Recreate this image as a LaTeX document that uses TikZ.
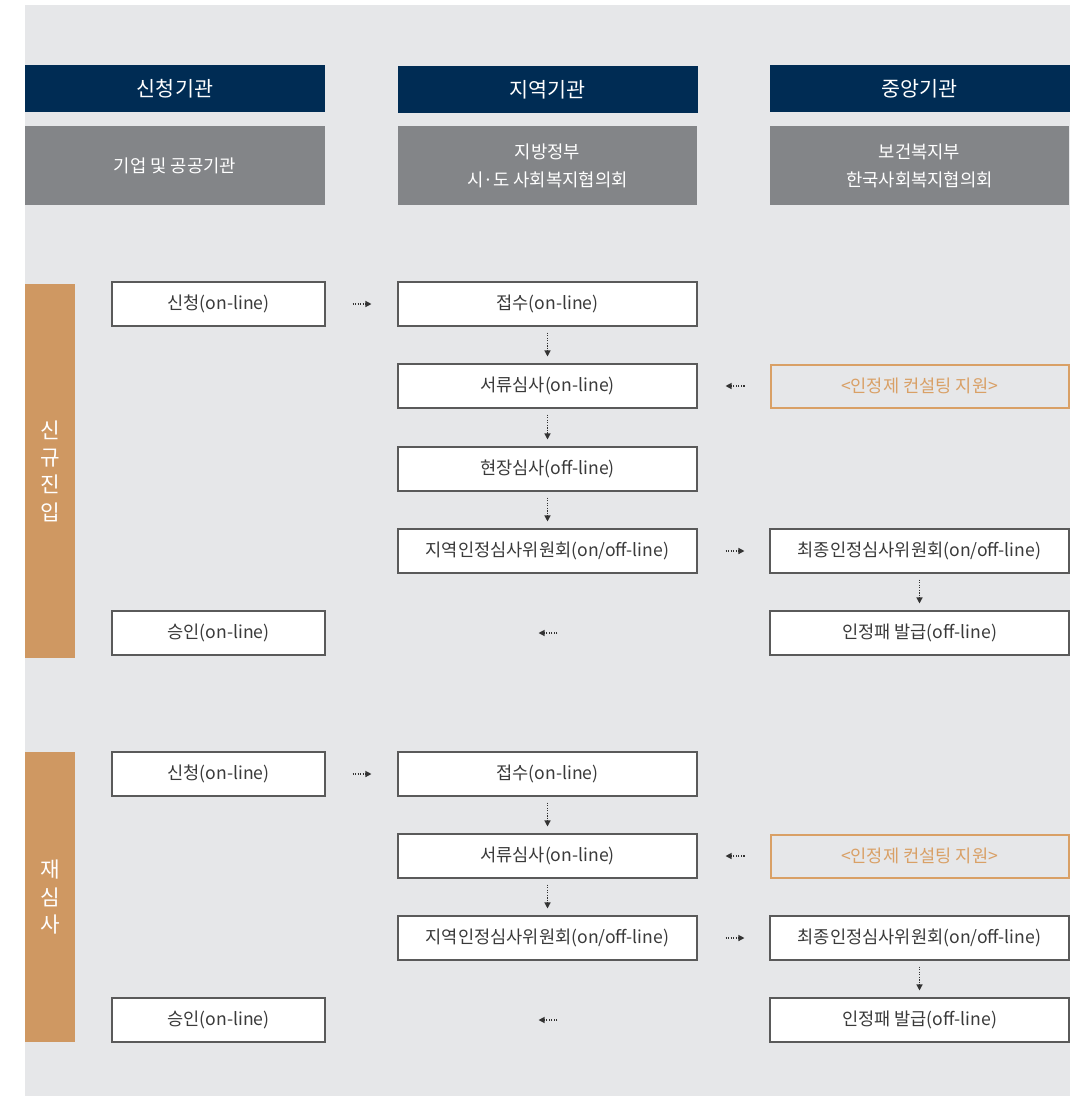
\documentclass[tikz,border=0pt]{standalone}
\usepackage{fontspec}
\setmainfont{Noto Sans CJK KR}
\usetikzlibrary{arrows.meta}
\definecolor{bgc}{HTML}{E6E7E9}
\definecolor{navy}{HTML}{002C54}
\definecolor{subg}{HTML}{838588}
\definecolor{ora}{HTML}{CF9862}
\definecolor{orb}{HTML}{D9A066}
\definecolor{bord}{HTML}{5A5A5A}
\definecolor{txt}{HTML}{3A3A3A}
\definecolor{arr}{HTML}{333333}
\begin{document}
\begin{tikzpicture}[x=0.75pt,y=-0.75pt,
  hdr/.style={fill=navy,text=white,inner sep=0pt,minimum height=35.25pt,font=\fontsize{15.5}{18}\selectfont},
  sub/.style={fill=subg,text=white,inner sep=0pt,minimum height=59.25pt,align=center,font=\fontsize{13.3}{21}\selectfont},
  wide/.style={minimum width=224.25pt},
  hw/.style={minimum width=225pt},
  bx/.style={draw=bord,line width=0.8pt,fill=white,text=txt,inner sep=0pt,minimum height=33pt,font=\fontsize{13.2}{15}\selectfont},
  smallbx/.style={bx,minimum width=159.75pt},
  widebx/.style={bx,minimum width=224.25pt},
  consult/.style={draw=orb,line width=1.5pt,text=orb,inner sep=0pt,minimum width=223.5pt,minimum height=32.25pt,font=\fontsize{13.2}{15}\selectfont},
  bar/.style={fill=ora,text=white,inner sep=0pt,minimum width=37.5pt,align=center,font=\fontsize{16}{20.5}\selectfont},
  darr/.style={draw=arr,line width=0.9pt,dash pattern=on 1pt off 0.9pt,-{Triangle[length=4.5pt,width=4.5pt]}}
]
\useasboundingbox (0,0) rectangle (1087,1096);
\fill[bgc] (25,5) rectangle (1070,1096);

% headers
\node[hdr,hw] (h1) at (175,88.5) {신청기관};
\node[hdr,hw] (h2) at (547.5,89.5) {지역기관};
\node[hdr,hw] (h3) at (919.5,88.5) {중앙기관};
\node[sub,hw] (s1) at (175,165.5) {기업 및 공공기관};
\node[sub,wide] (s2) at (547.5,165.5) {지방정부\\시·도 사회복지협의회};
\node[sub,wide] (s3) at (919.5,165.5) {보건복지부\\한국사회복지협의회};

% section 1
\node[bar,minimum height=280.5pt] (b1) at (50,471) {신\\규\\진\\입};
\node[smallbx] (a1) at (218.5,304) {신청(on-line)};
\node[widebx] (c1) at (547.5,304) {접수(on-line)};
\node[widebx] (c2) at (547.5,386) {서류심사(on-line)};
\node[consult] (k1) at (919.5,386) {<인정제 컨설팅 지원>};
\node[widebx] (c3) at (547.5,469) {현장심사(off-line)};
\node[widebx] (c4) at (547.5,551) {지역인정심사위원회(on/off-line)};
\node[widebx] (d1) at (919.5,551) {최종인정심사위원회(on/off-line)};
\node[widebx] (d2) at (919.5,633) {인정패 발급(off-line)};
\node[smallbx] (a2) at (218.5,633) {승인(on-line)};

\draw[darr,shorten <=20.25pt,shorten >=19.5pt] (a1) -- (c1);
\draw[darr,shorten <=4.5pt,shorten >=5.25pt] (c1) -- (c2);
\draw[darr,shorten <=18.75pt,shorten >=21pt] (k1) -- (c2);
\draw[darr,shorten <=4.5pt,shorten >=5.25pt] (c2) -- (c3);
\draw[darr,shorten <=4.5pt,shorten >=5.25pt] (c3) -- (c4);
\draw[darr,shorten <=21pt,shorten >=18.75pt] (c4) -- (d1);
\draw[darr,shorten <=4.5pt,shorten >=5.25pt] (d1) -- (d2);
\draw[darr,shorten <=159pt,shorten >=159.75pt] (d2) -- (a2);

% section 2
\node[bar,minimum height=217.5pt] (b2) at (50,897) {재\\심\\사};
\node[smallbx] (e1) at (218.5,774) {신청(on-line)};
\node[widebx] (f1) at (547.5,774) {접수(on-line)};
\node[widebx] (f2) at (547.5,856) {서류심사(on-line)};
\node[consult] (k2) at (919.5,856) {<인정제 컨설팅 지원>};
\node[widebx] (f3) at (547.5,938) {지역인정심사위원회(on/off-line)};
\node[widebx] (g1) at (919.5,938) {최종인정심사위원회(on/off-line)};
\node[widebx] (g2) at (919.5,1020) {인정패 발급(off-line)};
\node[smallbx] (e2) at (218.5,1020) {승인(on-line)};

\draw[darr,shorten <=20.25pt,shorten >=19.5pt] (e1) -- (f1);
\draw[darr,shorten <=4.5pt,shorten >=5.25pt] (f1) -- (f2);
\draw[darr,shorten <=18.75pt,shorten >=21pt] (k2) -- (f2);
\draw[darr,shorten <=4.5pt,shorten >=5.25pt] (f2) -- (f3);
\draw[darr,shorten <=21pt,shorten >=18.75pt] (f3) -- (g1);
\draw[darr,shorten <=4.5pt,shorten >=5.25pt] (g1) -- (g2);
\draw[darr,shorten <=159pt,shorten >=159.75pt] (g2) -- (e2);
\end{tikzpicture}
\end{document}
